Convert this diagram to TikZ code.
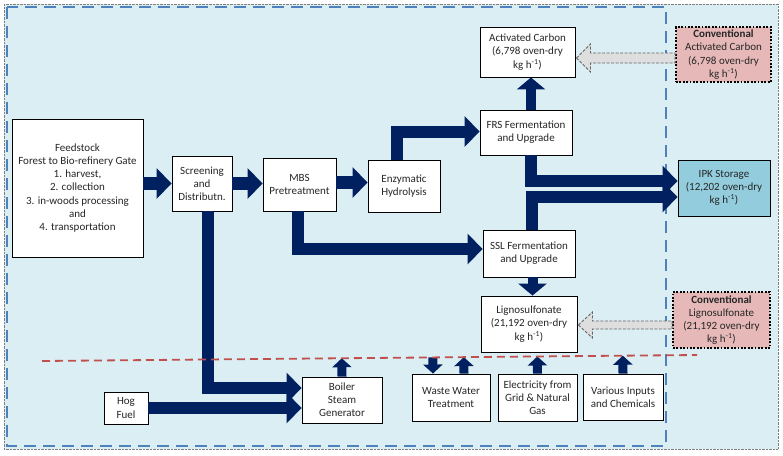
\documentclass[tikz,border=0pt]{standalone}
\usepackage{fontspec}
\setmainfont{Carlito}
\usetikzlibrary{arrows.meta,calc}
\definecolor{paleblue}{RGB}{219,238,244}
\definecolor{navy}{RGB}{0,32,96}
\definecolor{dashblue}{RGB}{79,129,189}
\definecolor{dashred}{RGB}{192,80,77}
\definecolor{convpink}{RGB}{230,185,184}
\definecolor{ipkblue}{RGB}{147,205,221}
\definecolor{ghostgray}{RGB}{222,222,222}
\tikzset{
    proc-box/.style = {draw=black, fill=white, line width=0.9pt, rectangle, align=center, inner sep=1pt, text=black!85, font=\fontsize{11}{13.2}\selectfont},
    conv-box/.style = {proc-box, fill=convpink, line width=1.8pt, dash pattern=on 1.8pt off 1.6pt},
    ipk-box/.style = {proc-box, fill=ipkblue},
    flow-arrow/.style = {draw=navy, line width=12pt, -{Triangle[width=30pt,length=15pt]}},
    mid-arrow/.style = {draw=navy, line width=10pt, -{Triangle[width=28pt,length=12pt]}},
    small-arrow/.style = {draw=navy, line width=9pt, -{Triangle[width=19pt,length=9pt]}},
    ghost-arrow/.style = {draw=black!60, fill=ghostgray, dash pattern=on 3pt off 1.5pt, line width=0.9pt},
}

\begin{document}
\begin{tikzpicture}[x=1pt,y=-1pt]
\useasboundingbox (0,0) rectangle (783,455);
\draw[gray, densely dotted, fill=paleblue] (4,4) rectangle (778,449);
\draw[dashblue, line width=2.6pt, dash pattern=on 12pt off 7pt] (7,7) rectangle (666,446);

\node[proc-box, minimum width=131, minimum height=138] (feed) at (77.5,188) {Feedstock\\Forest to Bio-refinery Gate\\1. harvest,\\2. collection\\3. in-woods processing\\and\\4. transportation};
\node[proc-box, minimum width=60, minimum height=55] (screen) at (202,183.5) {Screening\\and\\Distributn.};
\node[proc-box, minimum width=73, minimum height=53] (mbs) at (299.5,184.5) {MBS\\Pretreatment};
\node[proc-box, minimum width=72, minimum height=52] (enz) at (404,186) {Enzymatic\\Hydrolysis};
\node[proc-box, minimum width=95, minimum height=50] (ac) at (527.5,52) {Activated Carbon\\(6,798 oven-dry\\kg h\textsuperscript{-1})};
\node[proc-box, minimum width=92, minimum height=45] (frs) at (526,132.5) {FRS Fermentation\\and Upgrade};
\node[conv-box, minimum width=95, minimum height=55] (cac) at (723.5,54.5) {\textbf{Conventional}\\Activated Carbon\\(6,798 oven-dry\\kg h\textsuperscript{-1})};
\node[ipk-box, minimum width=92, minimum height=56] (ipk) at (724,188) {IPK Storage\\(12,202 oven-dry\\kg h\textsuperscript{-1})};
\node[proc-box, minimum width=92, minimum height=47] (ssl) at (529,253.5) {SSL Fermentation\\and Upgrade};
\node[proc-box, minimum width=96, minimum height=56] (ligno) at (529,324) {Lignosulfonate\\(21,192 oven-dry\\kg h\textsuperscript{-1})};
\node[conv-box, minimum width=97, minimum height=56] (cl) at (721.5,320) {\textbf{Conventional}\\Lignosulfonate\\(21,192 oven-dry\\kg h\textsuperscript{-1})};
\node[proc-box, minimum width=78, minimum height=47] (ww) at (451,397.5) {Waste Water\\Treatment};
\node[proc-box, minimum width=79, minimum height=47] (elec) at (537.5,397.5) {Electricity from\\Grid \& Natural\\Gas};
\node[proc-box, minimum width=80, minimum height=46] (various) at (623,397) {Various Inputs\\and Chemicals};
\node[proc-box, minimum width=80, minimum height=46] (boiler) at (342,400) {Boiler\\Steam\\Generator};
\node[proc-box, minimum width=44, minimum height=32] (hog) at (126,408) {Hog\\Fuel};

\coordinate (red-l) at (42,361);
\coordinate (red-r) at (697,355);
\coordinate (ww-in) at ($(ww.north)+(-18,0)$);
\coordinate (ww-out) at ($(ww.north)+(13,0)$);

\draw[flow-arrow, line width=13pt] (feed.east |- screen.west) -- (screen.west);
\draw[flow-arrow, line width=13pt] (screen.east) -- (screen.east -| mbs.west);
\draw[flow-arrow, line width=13pt] ($(mbs.east)+(0,-2)$) -- ($(mbs.east -| enz.west)+(0,-2)$);
\draw[flow-arrow] ($(enz.north)+(-7,0)$) |- ($(frs.west)+(0,-1)$);
\draw[mid-arrow] ($(frs.north)+(5,0)$) -- ($(ac.south)+(3.5,0)$);
\draw[flow-arrow] ($(frs.south)+(5,0)$) |- ($(ipk.west)+(0,-7)$);
\draw[flow-arrow] ($(ssl.north)+(3,0)$) |- ($(ipk.west)+(0,9)$);
\draw[flow-arrow] ($(mbs.south)+(-1.5,0)$) |- ($(ssl.west)+(0,-4.5)$);
\draw[mid-arrow] ($(ssl.south)+(3.5,0)$) -- ($(ligno.north)+(3.5,0)$);
\draw[flow-arrow] ($(screen.south)+(5.5,0)$) |- ($(boiler.west)+(0,-12)$);
\draw[flow-arrow] (hog.east) -- (hog.east -| boiler.west);

\draw[small-arrow] (boiler.north) -- ($(red-l)!(boiler.north)!(red-r)$);
\draw[small-arrow] ($(red-l)!(ww-in)!(red-r)$) -- (ww-in);
\draw[small-arrow] (ww-out) -- ($(red-l)!(ww-out)!(red-r)$);
\draw[small-arrow] (elec.north) -- ($(red-l)!(elec.north)!(red-r)$);
\draw[small-arrow] (various.north) -- ($(red-l)!(various.north)!(red-r)$);

\coordinate (ac-tip) at ($(ac.east)+(1,6)$);
\draw[ghost-arrow] (ac-tip) -- ++(14,-14) -- ++(0,9) -- ($(cac.west |- ac-tip)+(0,-5)$) -- ++(0,10) -- ($(ac-tip)+(14,5)$) -- ++(0,9) -- cycle;
\coordinate (lg-tip) at ($(ligno.east)+(1,1)$);
\draw[ghost-arrow] (lg-tip) -- ++(14,-13) -- ++(0,9) -- ($(cl.west |- lg-tip)+(0,-4)$) -- ++(0,8) -- ($(lg-tip)+(14,4)$) -- ++(0,9) -- cycle;

\draw[dashred, line width=1.8pt, dash pattern=on 8pt off 5pt] (red-l) -- (red-r);
\end{tikzpicture}
\end{document}
